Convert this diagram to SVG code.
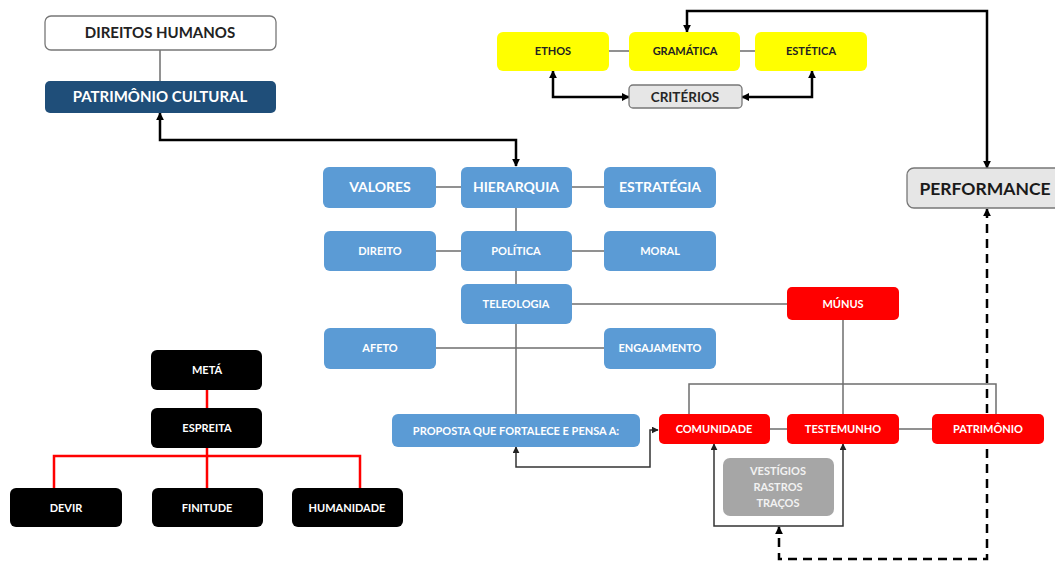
<svg xmlns="http://www.w3.org/2000/svg" width="1055" height="562" viewBox="0 0 1055 562">
<defs>
<marker id="ah" viewBox="0 0 10 10" refX="9" refY="5" markerWidth="8" markerHeight="8" markerUnits="userSpaceOnUse" orient="auto-start-reverse"><path d="M0,0 L10,5 L0,10 z" fill="#000"/></marker>
<marker id="ahs" viewBox="0 0 10 10" refX="9" refY="5" markerWidth="7" markerHeight="7" markerUnits="userSpaceOnUse" orient="auto-start-reverse"><path d="M0,0 L10,5 L0,10 z" fill="#222"/></marker>
<style>
text{font-family:Lato,"Liberation Sans",sans-serif;font-weight:bold;text-anchor:middle}
.blue rect{fill:#5B9BD5}
.blue text{fill:#fff}
.red rect{fill:#FF0000}
.red text{fill:#fff}
.yel rect{fill:#FFFF00}
.yel text{fill:#222}
.blk rect{fill:#000}
.blk text{fill:#fff}
.thin{fill:none;stroke:#6e6e6e;stroke-width:1.5}
.thick{fill:none;stroke:#000;stroke-width:2.5}
.mid{fill:none;stroke:#333;stroke-width:1.5}
.redl{fill:none;stroke:#FF0000;stroke-width:2.5}
.dash{fill:none;stroke:#000;stroke-width:2.5;stroke-dasharray:9,6}
</style>
</defs>
<rect width="1055" height="562" fill="#fff"/>
<g id="connectors">
<path class="thin" d="M160,50 V81"/>
<path class="thin" d="M609,51 H629 M740,51 H755"/>
<path class="thin" d="M436,187 H461 M572,187 H604"/>
<path class="thin" d="M516,207 V414"/>
<path class="thin" d="M436,251 H461 M572,251 H604"/>
<path class="thin" d="M436,348 H604"/>
<path class="thin" d="M572,304 H787"/>
<path class="thin" d="M843,320 V414"/>
<path class="thin" d="M689,414 V384 H996 V414"/>
<path class="thin" d="M770,429 H787 M899,429 H932"/>
<path class="thick" d="M160,113 V140 H516 V166" marker-start="url(#ah)" marker-end="url(#ah)"/>
<path class="thick" d="M687,32 V11 H987 V168" marker-start="url(#ah)" marker-end="url(#ah)"/>
<path class="thick" d="M553,71 V97 H629" marker-start="url(#ah)" marker-end="url(#ah)"/>
<path class="thick" d="M812,71 V97 H742" marker-start="url(#ah)" marker-end="url(#ah)"/>
<path class="mid" d="M516,447 V467 H650 V430 H658" marker-start="url(#ahs)" marker-end="url(#ahs)"/>
<path class="mid" d="M714,444 V526 H843 V444" marker-start="url(#ahs)" marker-end="url(#ahs)"/>
<path class="dash" d="M987,209 V559 H779 V527" marker-start="url(#ah)" marker-end="url(#ah)"/>
<path class="redl" d="M207,390 V408 M207,448 V488 M54,488 V456 H360 V488"/>
</g>
<g id="direitos-humanos"><rect x="45" y="16" width="231" height="34" rx="6" fill="#fff" stroke="#777" stroke-width="1.3"/><text x="160" y="38" font-size="15" fill="#222">DIREITOS HUMANOS</text></g>
<g id="patrimonio-cultural"><rect x="45" y="81" width="231" height="32" rx="5" fill="#1F4E79"/><text x="160" y="102" font-size="15" fill="#fff">PATRIMÔNIO CULTURAL</text></g>
<g id="ethos" class="yel"><rect x="497" y="32" width="112" height="39" rx="6"/><text x="553" y="55" font-size="11">ETHOS</text></g>
<g id="gramatica" class="yel"><rect x="629" y="32" width="111" height="39" rx="6"/><text x="685" y="55" font-size="11">GRAMÁTICA</text></g>
<g id="estetica" class="yel"><rect x="755" y="32" width="112" height="39" rx="6"/><text x="811" y="55" font-size="11">ESTÉTICA</text></g>
<g id="criterios"><rect x="629" y="85" width="113" height="23" rx="4" fill="#E6E6E6" stroke="#777" stroke-width="1.3"/><text x="685" y="101.5" font-size="13.5" fill="#262626">CRITÉRIOS</text></g>
<g id="performance"><rect x="907" y="168" width="160" height="40" rx="7" fill="#E6E6E6" stroke="#777" stroke-width="1.3"/><text x="985" y="194.5" font-size="17.5" fill="#1a1a1a">PERFORMANCE</text></g>
<g id="valores" class="blue"><rect x="323" y="167" width="113" height="41" rx="6"/><text x="380" y="192" font-size="14">VALORES</text></g>
<g id="hierarquia" class="blue"><rect x="461" y="167" width="111" height="41" rx="6"/><text x="516" y="192" font-size="14">HIERARQUIA</text></g>
<g id="estrategia" class="blue"><rect x="604" y="167" width="112" height="41" rx="6"/><text x="660" y="192" font-size="14">ESTRATÉGIA</text></g>
<g id="direito" class="blue"><rect x="324" y="231" width="112" height="40" rx="6"/><text x="380" y="255" font-size="11">DIREITO</text></g>
<g id="politica" class="blue"><rect x="461" y="231" width="111" height="40" rx="6"/><text x="516" y="255" font-size="11">POLÍTICA</text></g>
<g id="moral" class="blue"><rect x="604" y="231" width="112" height="40" rx="6"/><text x="660" y="255" font-size="11">MORAL</text></g>
<g id="teleologia" class="blue"><rect x="461" y="284" width="111" height="40" rx="6"/><text x="516" y="308" font-size="11">TELEOLOGIA</text></g>
<g id="afeto" class="blue"><rect x="324" y="328" width="112" height="41" rx="6"/><text x="380" y="352" font-size="11">AFETO</text></g>
<g id="engajamento" class="blue"><rect x="604" y="328" width="112" height="41" rx="6"/><text x="660" y="352" font-size="11">ENGAJAMENTO</text></g>
<g id="proposta" class="blue"><rect x="392" y="414" width="248" height="33" rx="6"/><text x="516" y="434.5" font-size="11">PROPOSTA QUE FORTALECE E PENSA A:</text></g>
<g id="munus" class="red"><rect x="787" y="287" width="112" height="33" rx="5"/><text x="843" y="307.5" font-size="11">MÚNUS</text></g>
<g id="comunidade" class="red"><rect x="659" y="414" width="111" height="30" rx="5"/><text x="714" y="433" font-size="11">COMUNIDADE</text></g>
<g id="testemunho" class="red"><rect x="787" y="414" width="112" height="30" rx="5"/><text x="843" y="433" font-size="11">TESTEMUNHO</text></g>
<g id="patrimonio" class="red"><rect x="932" y="414" width="112" height="30" rx="5"/><text x="988" y="433" font-size="11">PATRIMÔNIO</text></g>
<g id="vestigios"><rect x="723" y="458" width="111" height="58" rx="7" fill="#A6A6A6"/><text font-size="11" fill="#F2F2F2"><tspan x="778" y="475">VESTÍGIOS</tspan><tspan x="778" y="491">RASTROS</tspan><tspan x="778" y="507">TRAÇOS</tspan></text></g>
<g id="meta" class="blk"><rect x="151" y="350" width="111" height="40" rx="6"/><text x="207" y="374" font-size="11">METÁ</text></g>
<g id="espreita" class="blk"><rect x="151" y="408" width="111" height="40" rx="6"/><text x="207" y="432" font-size="11">ESPREITA</text></g>
<g id="devir" class="blk"><rect x="10" y="488" width="112" height="39" rx="6"/><text x="66" y="512" font-size="11">DEVIR</text></g>
<g id="finitude" class="blk"><rect x="152" y="488" width="111" height="39" rx="6"/><text x="207" y="512" font-size="11">FINITUDE</text></g>
<g id="humanidade" class="blk"><rect x="292" y="488" width="111" height="39" rx="6"/><text x="347" y="512" font-size="11">HUMANIDADE</text></g>
</svg>
